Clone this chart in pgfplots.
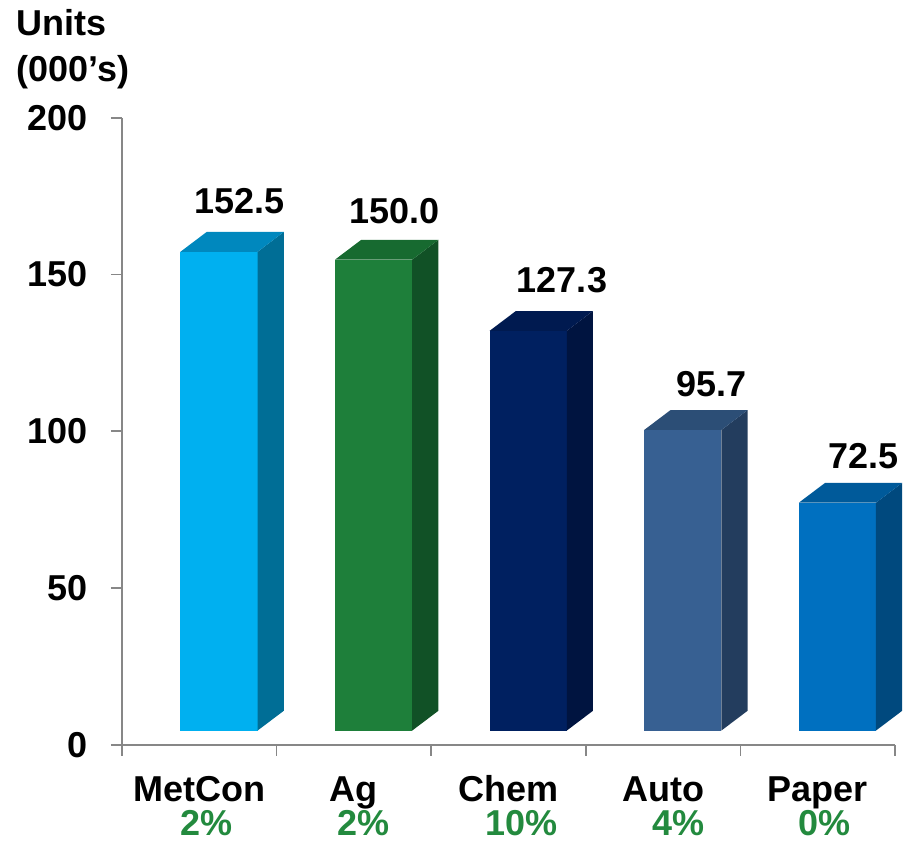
\documentclass[border=0pt]{standalone}
\usepackage{pgfplots}
\pgfplotsset{compat=1.18}
\usepackage{fontspec}
\setmainfont{Liberation Sans}
\definecolor{axisgray}{HTML}{878787}
\definecolor{pctgreen}{HTML}{238A3E}
\definecolor{mcF}{HTML}{00B0F0}\definecolor{mcS}{HTML}{006E96}\definecolor{mcT}{HTML}{0088BE}
\definecolor{agF}{HTML}{1E7F3A}\definecolor{agS}{HTML}{115126}\definecolor{agT}{HTML}{176A30}
\definecolor{chF}{HTML}{002060}\definecolor{chS}{HTML}{001440}\definecolor{chT}{HTML}{001A50}
\definecolor{auF}{HTML}{376092}\definecolor{auS}{HTML}{233D5E}\definecolor{auT}{HTML}{2C4E76}
\definecolor{paF}{HTML}{0070C0}\definecolor{paS}{HTML}{00497E}\definecolor{paT}{HTML}{005A9A}
\newcommand{\bigbf}{\fontsize{36}{37.5}\selectfont\bfseries}
% #1 category position, #2 value, #3 front, #4 side, #5 top colour
\newcommand{\cube}[5]{%
  \pgfmathsetmacro{\xa}{#1-0.122}%
  \pgfmathsetmacro{\xb}{#1+0.377}%
  \pgfmathsetmacro{\xc}{#1+0.377+0.1695}%
  \pgfmathsetmacro{\xd}{#1-0.122+0.1695}%
  \pgfmathsetmacro{\yt}{#2+4.75}%
  \pgfmathsetmacro{\ytb}{#2+4.75+6.31}%
  \pgfmathsetmacro{\ybb}{4.6+6.31}%
  \addplot[draw=none, fill=#3] coordinates {(\xa,4.6) (\xb,4.6) (\xb,\yt) (\xa,\yt)};
  \addplot[draw=none, fill=#4] coordinates {(\xb,4.6) (\xc,\ybb) (\xc,\ytb) (\xb,\yt)};
  \addplot[draw=none, fill=#5] coordinates {(\xa,\yt) (\xb,\yt) (\xc,\ytb) (\xd,\ytb)};
}
\begin{document}
\begin{tikzpicture}
\path[use as bounding box] (-122pt,-97pt) rectangle (791pt,745pt);
\begin{axis}[
  at={(0,0)}, anchor=south west,
  scale only axis, width=773pt, height=627.3pt,
  xmin=-0.5, xmax=4.5, ymin=0, ymax=200,
  axis x line*=bottom, axis y line*=left,
  axis line style={draw=axisgray, line width=1.8pt},
  every tick/.style={draw=axisgray, line width=1.8pt},
  tick align=outside,
  major tick length=11pt,
  ytick={0,50,100,150,200},
  yticklabels={0,50,100,150,200},
  yticklabel style={font=\bigbf, anchor=east, inner sep=0pt, xshift=-23pt},
  xtick={-0.5,0.5,...,4.5},
  xticklabels={},
  extra x ticks={0,1,2,3,4},
  extra x tick labels={MetCon,Ag,Chem,Auto,Paper},
  extra x tick style={major tick length=0pt,
    xticklabel style={font=\bigbf, anchor=base, inner sep=0pt, yshift=-56.7pt}},
  clip=false,
]
\cube{0}{152.5}{mcF}{mcS}{mcT}
\cube{1}{150.0}{agF}{agS}{agT}
\cube{2}{127.3}{chF}{chS}{chT}
\cube{3}{95.7}{auF}{auS}{auT}
\cube{4}{72.5}{paF}{paS}{paT}
\begin{scope}[every node/.style={font=\bigbf, anchor=base, inner sep=0pt}]
\node at (axis cs:0.260,169.6) {152.5};
\node at (axis cs:1.261,166.3) {150.0};
\node at (axis cs:2.346,144.2) {127.3};
\node at (axis cs:3.314,111.0) {95.7};
\node at (axis cs:4.296,88.2) {72.5};
\end{scope}
\begin{scope}[every node/.style={font=\bigbf, anchor=base, inner sep=0pt, text=pctgreen}]
\node at (axis cs:0.047,-29.0) {2\%};
\node at (axis cs:1.059,-29.0) {2\%};
\node at (axis cs:2.084,-29.0) {10\%};
\node at (axis cs:3.100,-29.0) {4\%};
\node at (axis cs:4.047,-29.0) {0\%};
\end{scope}
\end{axis}
\node[font=\bigbf, anchor=base west, inner sep=0pt] at (-105.3pt,709pt) {Units};
\node[font=\bigbf, anchor=base west, inner sep=0pt] at (-105.3pt,663.3pt) {(000’s)};
\end{tikzpicture}
\end{document}
